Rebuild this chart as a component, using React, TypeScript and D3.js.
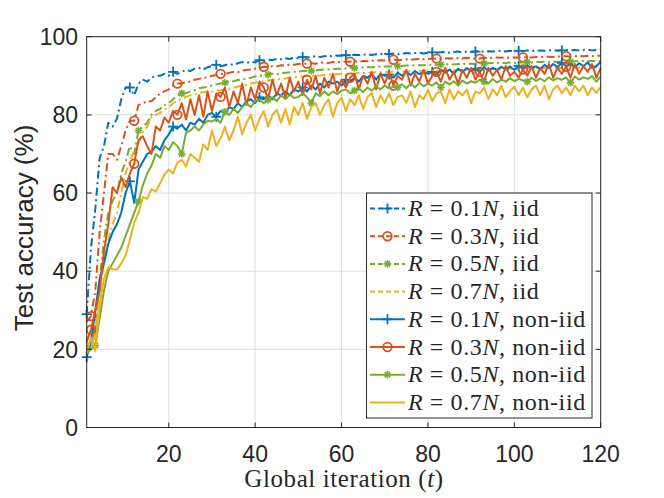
import React from "react";
import * as d3 from "d3";

const iterations: number[] = Array.from({ length: 120 }, (_, i) => i + 1);

const iid01: number[] = [
  29, 46, 56, 69, 72, 78, 77, 79, 84, 87, 87, 85, 88, 89, 88.5, 89.5, 90, 90, 90.5, 90,
  91, 90.5, 91, 91.5, 91.2, 91.8, 92, 91.6, 92.2, 92.5, 92.8, 92.4, 92.7, 93, 92.8, 93.2, 93.5, 93.3, 93.6, 93.4,
  94, 93.8, 94.1, 94, 94.3, 94.2, 94.5, 94.3, 94.6, 94.5, 94.8, 94.6, 94.9, 95, 94.8, 95, 95.1, 95, 95.2, 95.1,
  95.3, 95.2, 95.4, 95.3, 95.4, 95.5, 95.3, 95.5, 95.6, 95.5, 95.6, 95.7, 95.5, 95.7, 95.8, 95.7, 95.8, 95.9, 95.7, 95.9,
  96, 95.9, 96, 96.1, 95.9, 96.1, 96.2, 96, 96.2, 96.1, 96.2, 96.3, 96.1, 96.3, 96.2, 96.3, 96.4, 96.2, 96.4, 96.3,
  96.4, 96.3, 96.5, 96.4, 96.3, 96.5, 96.4, 96.5, 96.6, 96.4, 96.5, 96.6, 96.5, 96.6, 96.5, 96.6, 96.7, 96.5, 96.6, 96.6,
];

const iid03: number[] = [
  27, 28.5, 35, 50, 60, 70, 70, 68.5, 72, 76, 78.5, 78.5, 82.5, 83, 83.5, 83.5, 84.5, 85.5, 86, 86.5,
  87.5, 88, 88, 88.5, 88.5, 89, 89.2, 89.5, 89.6, 90, 90.2, 90.5, 90.4, 90.8, 91, 90.9, 91.3, 91.5, 91.6, 91.8,
  92, 92.3, 92.2, 92.5, 92.4, 92.7, 92.6, 92.9, 92.8, 93, 93.1, 93.1, 93.2, 93.1, 93.3, 93.4, 93.3, 93.5, 93.4, 93.6,
  93.6, 93.6, 93.7, 93.6, 93.8, 93.7, 93.9, 93.8, 94, 93.9, 94, 94.1, 94, 94.1, 94.2, 94.1, 94.2, 94.3, 94.2, 94.3,
  94.4, 94.4, 94.3, 94.4, 94.5, 94.4, 94.5, 94.4, 94.6, 94.5, 94.4, 94.4, 94.6, 94.5, 94.6, 94.7, 94.6, 94.7, 94.6, 94.7,
  94.7, 94.7, 94.8, 94.7, 94.8, 94.9, 94.8, 94.9, 94.8, 94.9, 95, 95, 94.9, 95, 95.1, 95, 95.1, 95, 95.1, 95.1,
];

const iid05: number[] = [
  21, 20, 25, 38, 48, 55, 58, 60, 65, 68, 72, 70, 76, 77, 78, 80, 81, 81.5, 82.5, 83,
  84, 85, 85.5, 85.5, 86, 86.3, 86.8, 87, 87.2, 87.5, 87.8, 88, 88.2, 88.5, 88.6, 88.9, 89.1, 89.3, 89.5, 89.8,
  90, 90.2, 90.3, 90.5, 90.4, 90.7, 90.8, 90.9, 91, 91.1, 91.2, 91.3, 91.3, 91.4, 91.5, 91.6, 91.6, 91.7, 91.8, 91.8,
  91.9, 92, 92, 92.1, 92.1, 92.2, 92.2, 92.3, 92.3, 92.4, 92.4, 92.5, 92.5, 92.5, 92.6, 92.6, 92.7, 92.7, 92.7, 92.8,
  92.8, 92.8, 92.9, 92.9, 93, 92.9, 93, 93.1, 93, 93.1, 93.1, 93.2, 93.1, 93.2, 93.3, 93.2, 93.3, 93.3, 93.4, 93.3,
  93.4, 93.4, 93.5, 93.4, 93.5, 93.5, 93.6, 93.5, 93.6, 93.6, 93.6, 93.7, 93.6, 93.7, 93.7, 93.8, 93.7, 93.8, 93.8, 93.8,
];

const iid07: number[] = [
  22, 20, 24, 35, 42, 48, 52, 55, 60, 65, 68, 71, 73, 75.5, 77, 79.5, 80, 80.5, 81.3, 82,
  83, 83.5, 84.2, 84.6, 85, 85.3, 85.6, 85.8, 86, 86, 86.2, 86.3, 86.5, 86.6, 86.9, 87.2, 87.5, 87.7, 88, 88.2,
  88.4, 88.6, 88.8, 88.9, 89, 89.2, 89.3, 89.5, 89.6, 89.7, 89.8, 89.9, 90, 90.1, 90.1, 90.2, 90.3, 90.3, 90.4, 90.5,
  90.5, 90.6, 90.6, 90.7, 90.7, 90.8, 90.8, 90.9, 90.9, 91, 91, 91, 91.1, 91.1, 91.1, 91.2, 91.2, 91.2, 91.3, 91.3,
  91.3, 91.3, 91.4, 91.4, 91.4, 91.5, 91.5, 91.5, 91.5, 91.6, 91.6, 91.6, 91.6, 91.7, 91.7, 91.7, 91.7, 91.8, 91.8, 91.8,
  91.8, 91.8, 91.9, 91.9, 91.9, 91.9, 92, 92, 92, 92, 92, 92.1, 92.1, 92.1, 92.1, 92.1, 92.2, 92.2, 92.2, 92.2,
];

const non01: number[] = [
  18, 22, 30, 38, 42, 47, 50, 52, 55, 60, 63, 57.5, 66, 68, 70, 70.5, 72, 71, 73.5, 75,
  77, 76.5, 77.5, 76, 78, 77.5, 79, 78, 80, 80.5, 79.5, 81, 80.5, 82, 81.5, 83, 82, 83.5, 84, 83,
  84.5, 84, 85, 84, 85.5, 85, 86, 85, 86.5, 86, 87, 86, 87.5, 86.5, 88, 87, 88.5, 88, 88.5, 87.5,
  89, 88.5, 89.5, 88.5, 90, 89.5, 90.5, 89, 90.5, 90, 90.3, 89.5, 90.8, 90, 91, 90.2, 91.2, 90.4, 91, 90.5,
  91, 90.3, 91.5, 90.8, 91.6, 90.5, 91.8, 91, 92, 91.2, 91.8, 91, 92.2, 91.3, 92, 91.5, 92.3, 91.6, 92.4, 91.5,
  92.5, 91.8, 92.6, 92, 92.4, 91.7, 92.8, 92, 93, 92.2, 93.3, 92.5, 93, 92.2, 93.2, 92.5, 93.4, 92, 92.5, 93.5,
];

const non03: number[] = [
  22, 25, 30, 35, 45, 52, 61.5, 60, 64, 61.5, 65, 67.5, 73.5, 74.5, 72, 70, 77, 76, 79.3, 78,
  81, 80, 83, 78.8, 84, 80, 85, 79.5, 86, 81, 85.5, 84.6, 87, 82, 86, 83, 88, 82.5, 87, 84,
  88.5, 87, 84, 89, 85, 88, 84.5, 89.5, 86, 88.5, 85, 89, 86.5, 90, 85.5, 89.5, 87, 90.5, 86, 89,
  87, 89.5, 90.5, 86.5, 90, 88, 91, 86.5, 90.5, 88, 91, 87.5, 90, 89, 91.5, 87.5, 90.5, 88.5, 91.5, 88,
  90, 91, 88.5, 92, 89, 91, 88, 91.5, 89.5, 92, 89, 91, 88.5, 92, 90, 91.5, 89, 92.5, 90, 91,
  89.5, 91.6, 90, 92.5, 89.5, 92, 90.5, 93, 89.5, 92, 90.5, 92.3, 89.5, 93, 90.5, 92.5, 91, 93, 89.5, 92,
];

const non05: number[] = [
  19, 20, 21, 28, 35, 40, 42, 44, 46, 49, 52, 55, 57.8, 62, 65, 67, 70, 69, 72, 71,
  73, 72, 70, 75.4, 76, 77, 76, 77.5, 78.5, 78.3, 79, 78, 80.8, 80, 81.5, 80.5, 82, 83, 82, 83.5,
  84, 83, 83.9, 84.5, 83.5, 85, 84, 85.2, 84.3, 84.6, 85.5, 84.5, 83, 85.5, 84.8, 86, 85, 86, 85.3, 86.2,
  86.5, 85.5, 86.2, 86.8, 85.8, 87, 86.2, 87.3, 86.5, 87.5, 86.8, 87.2, 87, 87.8, 86.8, 88, 87, 88.2, 87.3, 88,
  87.5, 88.3, 87, 88.5, 87.8, 88.6, 87.5, 88.8, 88, 88.6, 88.2, 89, 88.5, 88, 89.2, 88.3, 89, 88.5, 89.4, 88.6,
  89.2, 88.8, 88.5, 89.5, 88.7, 89.3, 88.6, 89.6, 88.8, 89.4, 89, 89.6, 88.2, 89.8, 89, 89.6, 89.2, 89.9, 88.5, 89.8,
];

const non07: number[] = [
  19, 23, 19.5, 31.5, 38, 41, 40.5, 40.4, 42, 44, 48, 52.4, 55, 59, 58.5, 61, 60.4, 62.5, 64.7, 66,
  65, 67.8, 68.5, 66.8, 70, 69, 68, 72.5, 71, 76, 72, 74, 77, 73.5, 76, 79.5, 75, 78, 80, 76,
  79, 81, 77, 80, 81.3, 78, 81.5, 77.5, 82, 80, 83, 79, 82, 83, 80, 82.5, 84, 79.5, 83, 84.4,
  81, 84, 82.5, 85, 81.5, 84.5, 85.6, 82, 85, 83, 85.5, 82.5, 84.6, 85, 83, 86, 82, 85, 84, 86.4,
  83.5, 85.5, 86, 83, 86.5, 84, 86, 85, 86.5, 83, 86, 85.5, 87, 84, 86.5, 85, 87.5, 84.5, 86, 87.2,
  85, 87, 84.5, 86.5, 87.5, 85, 87.5, 84, 86.5, 87.5, 85.5, 87, 85, 87.5, 86, 87.5, 85, 87, 85.6, 87.2,
];

const xTicks: number[] = [20, 40, 60, 80, 100, 120];
const yTicks: number[] = [0, 20, 40, 60, 80, 100];
const ratios: string[] = ["0.1", "0.3", "0.5", "0.7", "0.1", "0.3", "0.5", "0.7"];
const kinds: string[] = ["iid", "iid", "iid", "iid", "non-iid", "non-iid", "non-iid", "non-iid"];

const BLUE = "#0072BD";
const ORANGE = "#D95319";
const YELLOW = "#EDB120";
const GREEN = "#77AC30";

type Series = {
  values: number[];
  color: string;
  dashed: boolean;
  marker: "plus" | "circle" | "star" | "none";
  offset: number;
};

const series: Series[] = [
  { values: iid01, color: BLUE, dashed: true, marker: "plus", offset: 0 },
  { values: iid03, color: ORANGE, dashed: true, marker: "circle", offset: 1 },
  { values: iid05, color: GREEN, dashed: true, marker: "star", offset: 2 },
  { values: iid07, color: YELLOW, dashed: true, marker: "none", offset: 0 },
  { values: non01, color: BLUE, dashed: false, marker: "plus", offset: 0 },
  { values: non03, color: ORANGE, dashed: false, marker: "circle", offset: 1 },
  { values: non05, color: GREEN, dashed: false, marker: "star", offset: 2 },
  { values: non07, color: YELLOW, dashed: false, marker: "none", offset: 0 },
];

const W = 664;
const H = 498;
const L = 86.7;
const R = 600.7;
const T = 36.7;
const B = 427.5;
const DASH = "8,3.5,2,3.5";
const SANS = "'Liberation Sans', Arial, Helvetica, sans-serif";
const SERIF = "'Liberation Serif', 'Times New Roman', serif";
const AX = "#262626";

function Marker({ kind, x, y, color }: { kind: string; x: number; y: number; color: string }) {
  if (kind === "plus") {
    const s = 5;
    return (
      <g stroke={color} strokeWidth={1.8}>
        <line x1={x - s} y1={y} x2={x + s} y2={y} />
        <line x1={x} y1={y - s} x2={x} y2={y + s} />
      </g>
    );
  }
  if (kind === "circle") {
    return <circle cx={x} cy={y} r={4.3} fill="none" stroke={color} strokeWidth={1.8} />;
  }
  if (kind === "star") {
    const s = 3.8;
    const d = s * 0.72;
    return (
      <g stroke={color} strokeWidth={1.6}>
        <line x1={x - s} y1={y} x2={x + s} y2={y} />
        <line x1={x - d} y1={y - d} x2={x + d} y2={y + d} />
        <line x1={x - d} y1={y + d} x2={x + d} y2={y - d} />
        <line x1={x} y1={y - s} x2={x} y2={y + s} />
      </g>
    );
  }
  return null;
}

export default function App() {
  const x = d3.scaleLinear().domain([1, 120]).range([L, R]);
  const y = d3.scaleLinear().domain([0, 100]).range([B, T]);
  const line = d3
    .line<number>()
    .x((_, i) => x(iterations[i]))
    .y((v) => y(v));

  const legX = 366.5;
  const legY = 193;
  const legW = 225.5;
  const legH = 225;
  const rowH = 27.7;
  const row0 = 208.5;

  return (
    <svg
      width={W}
      height={H}
      viewBox={`0 0 ${W} ${H}`}
      style={{ position: "absolute", left: 0, top: 0, background: "#fff" }}
    >
      <rect x={0} y={0} width={W} height={H} fill="#fff" />
      {/* grid */}
      <g stroke="#dfdfdf" strokeWidth={1}>
        {xTicks.map((t) => (
          <line key={"gx" + t} x1={x(t)} x2={x(t)} y1={T} y2={B} />
        ))}
        {yTicks.map((t) => (
          <line key={"gy" + t} x1={L} x2={R} y1={y(t)} y2={y(t)} />
        ))}
      </g>
      {/* series */}
      {series.map((s, si) => (
        <g key={"s" + si}>
          <path
            d={line(s.values) || ""}
            fill="none"
            stroke={s.color}
            strokeWidth={2}
            strokeDasharray={s.dashed ? DASH : undefined}
            strokeLinejoin="round"
          />
          {s.marker !== "none" &&
            s.values.map((v, i) =>
              i % 10 === s.offset ? (
                <Marker key={i} kind={s.marker} x={x(iterations[i])} y={y(v)} color={s.color} />
              ) : null
            )}
        </g>
      ))}
      {/* axes box */}
      <rect x={L} y={T} width={R - L} height={B - T} fill="none" stroke={AX} strokeWidth={1} />
      <g stroke={AX} strokeWidth={1}>
        {xTicks.map((t) => (
          <g key={"tx" + t}>
            <line x1={x(t)} x2={x(t)} y1={B} y2={B - 5} />
            <line x1={x(t)} x2={x(t)} y1={T} y2={T + 5} />
          </g>
        ))}
        {yTicks.map((t) => (
          <g key={"ty" + t}>
            <line x1={L} x2={L + 5} y1={y(t)} y2={y(t)} />
            <line x1={R} x2={R - 5} y1={y(t)} y2={y(t)} />
          </g>
        ))}
      </g>
      {/* tick labels */}
      <g fontFamily={SANS} fontSize={23} fill={AX}>
        {xTicks.map((t) => (
          <text key={"lx" + t} x={x(t)} y={462} textAnchor="middle">
            {t}
          </text>
        ))}
        {yTicks.map((t) => (
          <text key={"ly" + t} x={78} y={y(t) + 8.3} textAnchor="end">
            {t}
          </text>
        ))}
      </g>
      {/* axis labels */}
      <text
        transform="translate(33,228) rotate(-90)"
        textAnchor="middle"
        fontFamily={SANS}
        fontSize={26}
        fill={AX}
      >
        Test accuracy (%)
      </text>
      <text x={344} y={487} textAnchor="middle" fontFamily={SERIF} fontSize={25} letterSpacing={0.6} fill={AX}>
        Global iteration (<tspan fontStyle="italic">t</tspan>)
      </text>
      {/* legend */}
      <rect x={legX} y={legY} width={legW} height={legH} fill="#fff" stroke={AX} strokeWidth={1} />
      {series.map((s, i) => {
        const cy = row0 + i * rowH;
        return (
          <g key={"lg" + i}>
            <line
              x1={370}
              x2={405}
              y1={cy}
              y2={cy}
              stroke={s.color}
              strokeWidth={2}
              strokeDasharray={s.dashed ? "5,3" : undefined}
            />
            {s.marker !== "none" && <Marker kind={s.marker} x={387.5} y={cy} color={s.color} />}
            <text x={408} y={cy + 7.5} fontFamily={SERIF} fontSize={24} letterSpacing={0.6} fill={AX}>
              <tspan fontStyle="italic">R</tspan>
              {" = " + ratios[i]}
              <tspan fontStyle="italic">N</tspan>
              {", " + kinds[i]}
            </text>
          </g>
        );
      })}
    </svg>
  );
}
